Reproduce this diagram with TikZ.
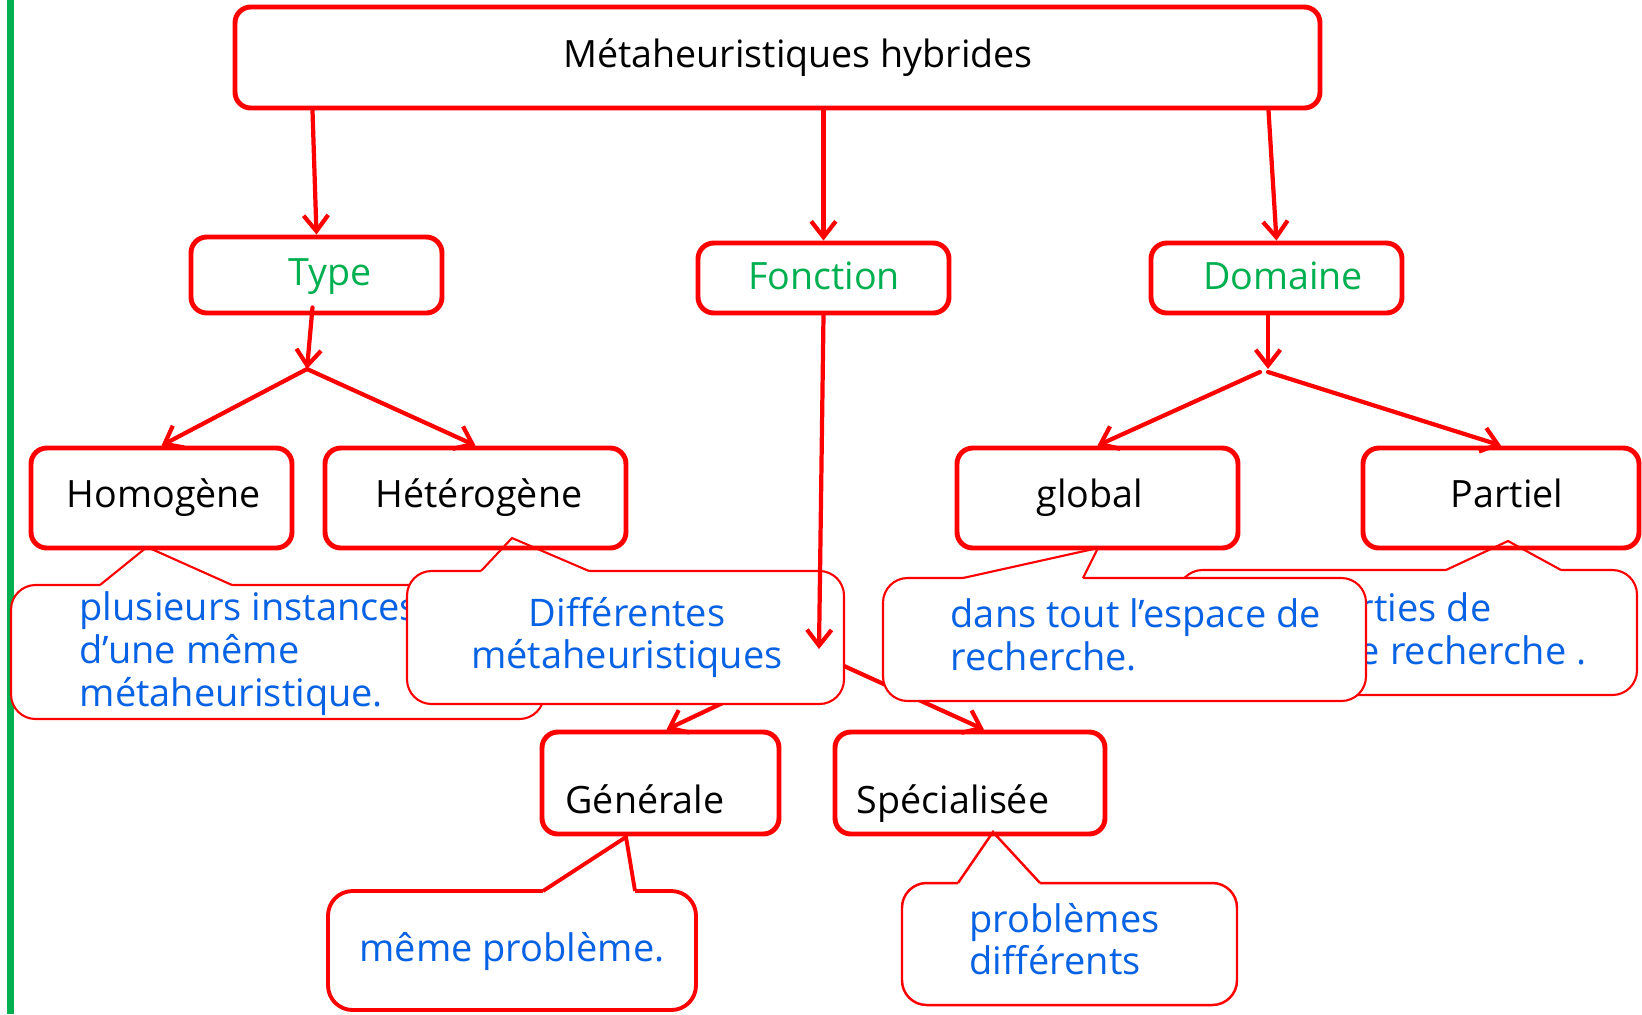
\documentclass[tikz,border=0pt]{standalone}
\usepackage{fontspec}
\setmainfont{Open Sans}
\usetikzlibrary{arrows.meta,fit,calc}
\definecolor{cred}{RGB}{255,0,0}
\definecolor{cgreen}{RGB}{0,176,80}
\definecolor{cblue}{RGB}{8,98,228}
\pgfdeclarelayer{bg}
\pgfdeclarelayer{notes}
\pgfsetlayers{bg,notes,main}
\begin{document}
\begin{tikzpicture}[x=0.01cm,y=-0.01cm,
  boxst/.style={draw=cred,line width=1.4pt,rounded corners=4.5pt,inner sep=0pt},
  cbody/.style={draw=cred,fill=white,line width=0.6pt,rounded corners=7pt,inner sep=0pt},
  cptr/.style={draw=cred,line width=0.6pt,line join=miter},
  lbl/.style={font=\fontsize{10.7pt}{12.2pt}\selectfont,inner sep=0pt,text height=7.6pt,text depth=0pt,anchor=center},
  ctxt/.style={font=\fontsize{10.8pt}{12.2pt}\selectfont,text=cblue,inner sep=0pt},
  arr/.style={draw=cred,line width=1.2pt,line cap=round,-{Straight Barb[length=4.5pt,width=7pt]}}]

\useasboundingbox (0,0) rectangle (1642,1014);

\begin{pgfonlayer}{bg}
  \fill[white] (0,0) rectangle (1642,1014);
  \draw[cgreen,line width=2pt] (10.5,0) -- (10.5,1014);
\end{pgfonlayer}

% split points of the branches
\coordinate (tsplit) at (307,369);
\coordinate (dsplit) at (1268,369);
\coordinate (fsplit) at (822,656);
\coordinate (ftip) at (819,649);

% boxes
\node[boxst,fit={(235,7)(1320,108)}] (title) {};
\node[boxst,fit={(191,237)(442,313)}] (type) {};
\node[boxst,fit={(698,243)(949,313)}] (fonction) {};
\node[boxst,fit={(1151,243)(1402,313)}] (domaine) {};
\node[boxst,fit={(31,448)(292,548)}] (homogene) {};
\node[boxst,fit={(325,448)(626,548)}] (heterogene) {};
\node[boxst,fit={(957,448)(1238,548)}] (global) {};
\node[boxst,fit={(1363,448)(1639,548)}] (partiel) {};
\node[boxst,fit={(542,732)(779,834)}] (generale) {};
\node[boxst,fit={(835,732)(1105,834)}] (specialisee) {};

% box labels
\node[lbl] (ttitle) at (798,54) {Métaheuristiques hybrides};
\node[lbl,text=cgreen] (ttype) at (330,272) {Type};
\node[lbl,text=cgreen] (tfonction) at (824,276) {Fonction};
\node[lbl,text=cgreen] (tdomaine) at (1283,276) {Domaine};
\node[lbl] (thomogene) at (164,494) {Homogène};
\node[lbl] (theterogene) at (479,494) {Hétérogène};
\node[lbl] (tglobal) at (1090,494) {global};
\node[lbl] (tpartiel) at (1507,494) {Partiel};
\node[lbl] (tgenerale) at (645,800) {Générale};
\node[lbl] (tspecialisee) at (953,800) {Spécialisée};

% arrows from the title
\draw[arr] ($(title.south -| type.north)+(-4,0)$) -- (type.north);
\draw[arr] (title.south -| fonction.north) -- (fonction.north);
\draw[arr] ($(title.south -| domaine.north)+(-8,0)$) -- (domaine.north);

% Type branch
\draw[arr] ($(type.south)+(-4,-8)$) -- (tsplit);
\draw[arr] (tsplit) -- (homogene.north);
\draw[arr] (tsplit) -- (heterogene.north);

% Domaine branch
\draw[arr] (domaine.south -| dsplit) -- (dsplit);
\draw[arr] ($(dsplit)+(-8,3)$) -- (global.north);
\draw[arr] ($(dsplit)+(0,3)$) -- (partiel.north);

% Fonction branch
\draw[arr] (fonction.south) -- (ftip);
\begin{pgfonlayer}{bg}
  \draw[arr] (fsplit) -- ($(generale.north)+(6,0)$);
  \draw[arr] (fsplit) -- ($(specialisee.north)+(14,0)$);
\end{pgfonlayer}

% callouts
\begin{pgfonlayer}{notes}
  % Homogène
  \node[cbody,fit={(11,585)(544,719)}] (c1) {};
  \fill[white] (100,589) -- (100,585) -- (147,547) -- (232,585) -- (232,589) -- cycle;
  \draw[cptr] (100,585) -- (147,547) -- (232,585);
  \node[ctxt,anchor=base west] (c1a) at (79,620) {plusieurs instances};
  \node[ctxt,anchor=base west] (c1b) at (79,663) {d’une même};
  \node[ctxt,anchor=base west] (c1c) at (79,706) {métaheuristique.};

  % Hétérogène
  \node[cbody,fit={(407,571)(844,704)}] (c2) {};
  \fill[white] (481,575) -- (481,571) -- (512,538) -- (589,571) -- (589,575) -- cycle;
  \draw[cptr] (481,571) -- (512,538) -- (589,571);
  \node[ctxt,anchor=base] (c2a) at (627,626) {Différentes};
  \node[ctxt,anchor=base] (c2b) at (627,668) {métaheuristiques};

  % Partiel
  \node[cbody,fit={(1178,570)(1637,695)}] (c4) {};
  \fill[white] (1446,574) -- (1446,570) -- (1508,541) -- (1561,570) -- (1561,574) -- cycle;
  \draw[cptr] (1446,570) -- (1508,541) -- (1561,570);
  \node[ctxt,anchor=base east] (c4a) at (1492,621) {dans des parties de};
  \node[ctxt,anchor=base east] (c4b) at (1587,664) {l’espace de recherche .};

  % global
  \node[cbody,fit={(883,578)(1366,701)}] (c3) {};
  \fill[white] (963,582) -- (963,578) -- (1098,548) -- (1083,578) -- (1083,582) -- cycle;
  \draw[cptr] (963,578) -- (1098,548) -- (1083,578);
  \node[ctxt,anchor=base west] (c3a) at (950,627) {dans tout l’espace de};
  \node[ctxt,anchor=base west] (c3b) at (950,670) {recherche.};

  % Générale
  \node[cbody,line width=1.1pt,fit={(328,891)(696,1010)}] (c5) {};
  \fill[white] (543,895) -- (543,891) -- (626,837) -- (635,891) -- (635,895) -- cycle;
  \draw[cptr,line width=1.1pt] (543,891) -- (626,837) -- (635,891);
  \node[ctxt,anchor=base] (c5a) at (512,961) {même problème.};

  % Spécialisée
  \node[cbody,line width=0.7pt,fit={(902,883)(1237,1005)}] (c6) {};
  \fill[white] (958,887) -- (958,883) -- (993,832) -- (1040,883) -- (1040,887) -- cycle;
  \draw[cptr,line width=0.7pt] (958,883) -- (993,832) -- (1040,883);
  \node[ctxt,anchor=base west] (c6a) at (969,932) {problèmes};
  \node[ctxt,anchor=base west] (c6b) at (969,974) {différents};
\end{pgfonlayer}
\end{tikzpicture}
\end{document}
